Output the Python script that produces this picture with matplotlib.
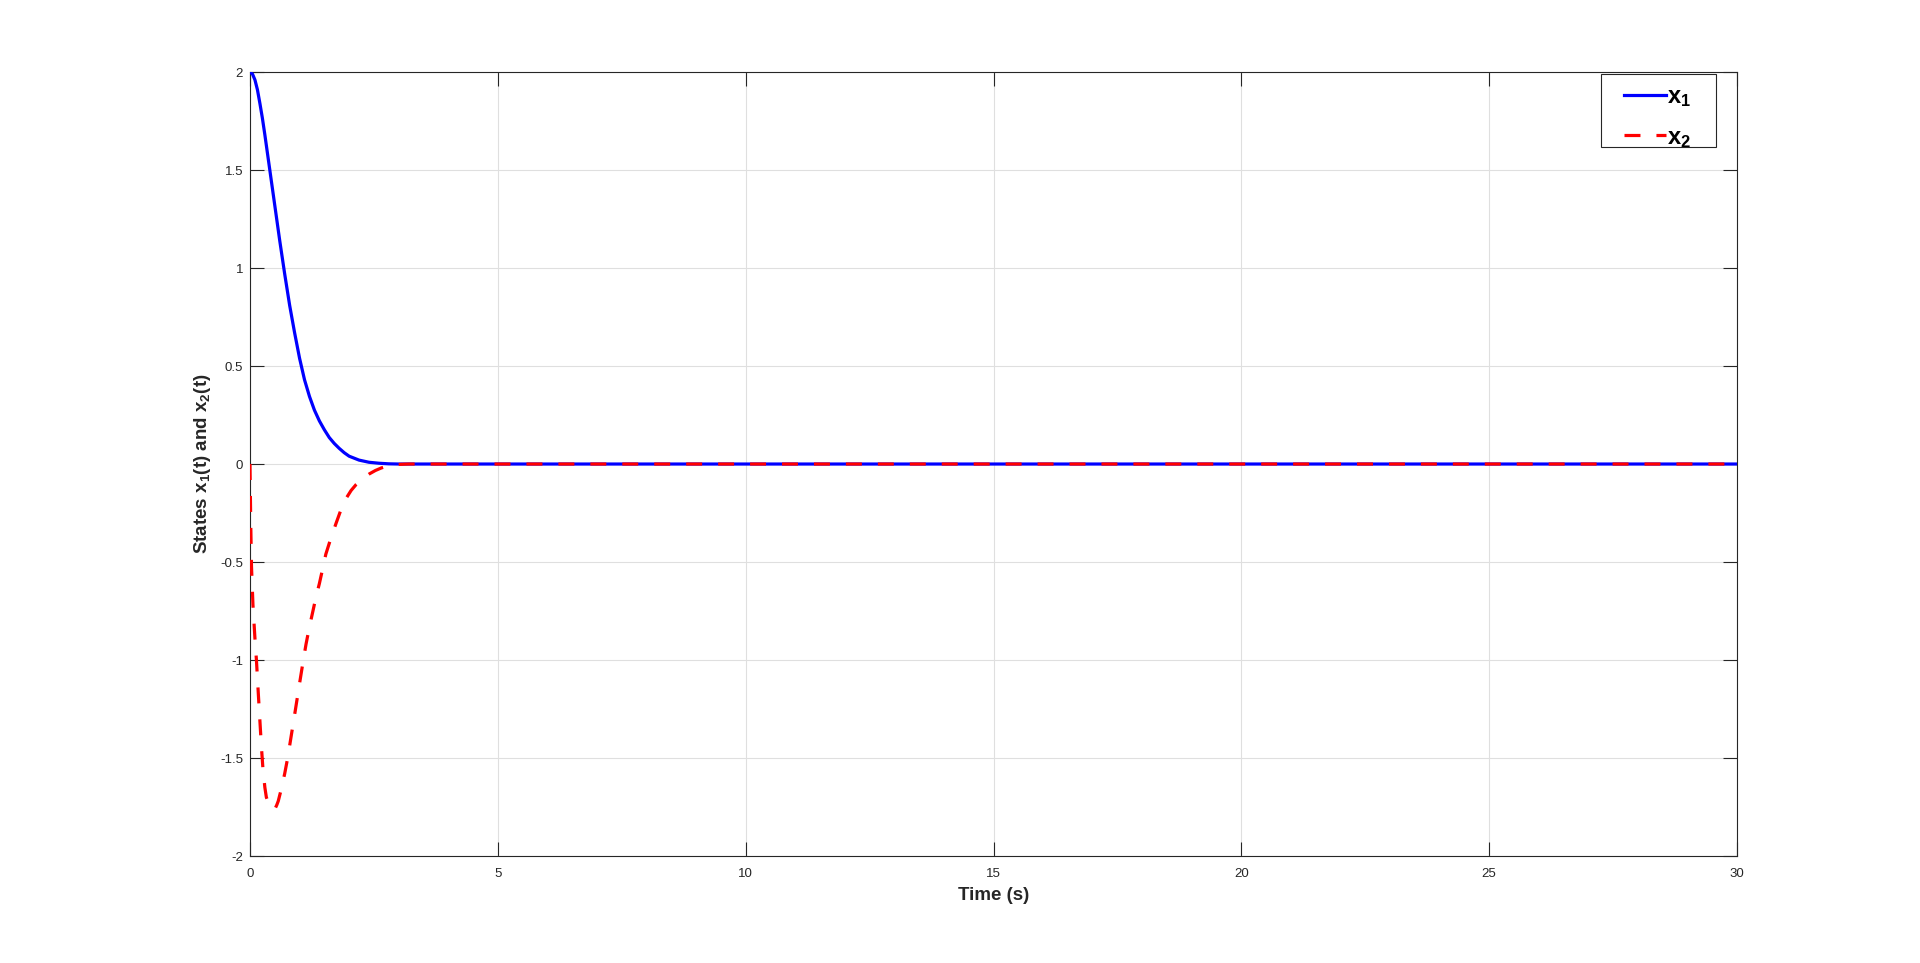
import matplotlib
matplotlib.use("Agg")
import matplotlib.pyplot as plt
from matplotlib.patches import Rectangle

plt.rcParams['font.family'] = ['Liberation Sans', 'DejaVu Sans']
plt.rcParams['mathtext.fontset'] = 'custom'
plt.rcParams['mathtext.rm'] = 'Liberation Sans'
plt.rcParams['mathtext.bf'] = 'Liberation Sans:bold'
plt.rcParams['mathtext.it'] = 'Liberation Sans:italic'
plt.rcParams['axes.unicode_minus'] = False

# Data
t1 = [0, 0.05, 0.1, 0.15, 0.2, 0.25, 0.3, 0.35, 0.4, 0.5, 0.6, 0.7, 0.8, 0.9,
      1.0, 1.1, 1.2, 1.3, 1.4, 1.5, 1.6, 1.7, 1.8, 1.9, 2.0, 2.2, 2.4, 2.6,
      2.8, 3.0, 3.5, 30]
x1 = [2.0, 1.99, 1.96, 1.91, 1.84, 1.765, 1.68, 1.59, 1.50, 1.32, 1.14, 0.97,
      0.81, 0.67, 0.54, 0.43, 0.345, 0.275, 0.22, 0.175, 0.135, 0.105, 0.08,
      0.058, 0.040, 0.02, 0.009, 0.004, 0.001, 0.0, 0.0, 0.0]

t2 = [0, 0.015, 0.03, 0.06, 0.1, 0.13, 0.17, 0.2, 0.23, 0.26, 0.3, 0.33,
      0.38, 0.42, 0.46, 0.5, 0.54, 0.57, 0.63, 0.7, 0.76, 0.83, 0.9, 1.0,
      1.07, 1.13, 1.2, 1.27, 1.33, 1.4, 1.47, 1.53, 1.63, 1.74, 1.84, 1.94,
      2.04, 2.14, 2.27, 2.41, 2.53, 2.65, 2.78, 2.9, 3.2, 30]
x2 = [0, -0.3, -0.52, -0.72, -0.89, -1.0, -1.18, -1.31, -1.44, -1.55, -1.65,
      -1.70, -1.735, -1.75, -1.76, -1.762, -1.74, -1.72, -1.66, -1.58, -1.50,
      -1.39, -1.28, -1.12, -1.01, -0.92, -0.83, -0.75, -0.68, -0.61, -0.53,
      -0.46, -0.38, -0.30, -0.23, -0.175, -0.135, -0.105, -0.075, -0.05,
      -0.033, -0.02, -0.01, -0.003, 0.0, 0.0]

xticks = [0, 5, 10, 15, 20, 25, 30]
yticks = [-2, -1.5, -1, -0.5, 0, 0.5, 1, 1.5, 2]
ytick_labels = ['-2', '-1.5', '-1', '-0.5', '0', '0.5', '1', '1.5', '2']

txt = '#262626'
fig = plt.figure(figsize=(19.2, 9.63), dpi=100)
ax = fig.add_axes([0.1302, 0.1111, 0.7745, 0.8141])

ax.plot(t1, x1, color='#0000ff', lw=2.3, label=r'$\mathbf{x_1}$', zorder=3)
ax.plot(t2, x2, color='#ff0000', lw=2.3, dashes=(5.0, 5.0),
        label=r'$\mathbf{x_2}$', zorder=4)

ax.set_xlim(0, 30)
ax.set_ylim(-2, 2)
ax.set_xticks(xticks)
ax.set_xticklabels([str(v) for v in xticks])
ax.set_yticks(yticks)
ax.set_yticklabels(ytick_labels)

ax.grid(True, color='#dfdfdf', lw=0.8)
ax.set_axisbelow(True)
ax.tick_params(direction='in', length=10, width=0.8, colors=txt,
               labelsize=9.5, top=True, right=True)
ax.tick_params(axis='x', pad=8.5)
ax.tick_params(axis='y', pad=5)
for s in ax.spines.values():
    s.set_color(txt)
    s.set_linewidth(0.8)

ax.set_xlabel('Time (s)', fontsize=13.5, fontweight='bold', color=txt, labelpad=5)
ax.set_ylabel(r'States x$_\mathbf{1}$(t) and x$_\mathbf{2}$(t)', fontsize=13.5,
              fontweight='bold', color=txt, labelpad=5)

# legend box drawn as a frame, entries placed inside it
box = Rectangle((0.9086, 0.9043), 0.0773, 0.0931, transform=ax.transAxes,
                facecolor='white', edgecolor=txt, lw=0.8, zorder=5)
ax.add_patch(box)
leg = ax.legend(loc='upper left', bbox_to_anchor=(0.9241, 0.9815),
                borderaxespad=0, borderpad=0, fontsize=17, handlelength=1.78,
                handletextpad=0.04, labelspacing=0.73, frameon=False)
leg.set_zorder(6)

fig.savefig('out.png', dpi=100, facecolor='white')
